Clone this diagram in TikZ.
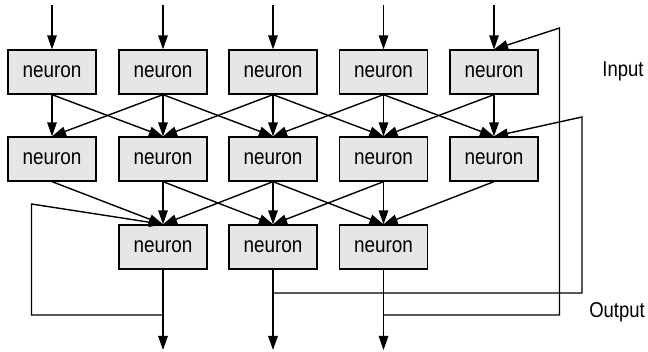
\documentclass[tikz,border=0pt]{standalone}
\usepackage{fontspec}
\setmainfont{Liberation Sans}[FakeStretch=0.86]
\usetikzlibrary{arrows.meta}
\definecolor{boxfill}{HTML}{E6E6E6}
\begin{document}
\begin{tikzpicture}[x=1pt,y=-1pt,
  neuronbox/.style={draw, fill=boxfill, line width=1.3pt, minimum width=88pt, minimum height=44pt, inner sep=0pt, font=\fontsize{22}{26}\selectfont},
  conn/.style={line width=1.4pt, line join=miter, -{Triangle[length=14pt,width=9.5pt]}},
  lbl/.style={font=\fontsize{21.5}{26}\selectfont, inner sep=0pt}]
\useasboundingbox (0,0) rectangle (648,352);
\foreach \k/\x in {1/52,2/163,3/273,4/383.5,5/494}{
  \node[neuronbox] (a\k) at (\x,72) {neuron};
  \node[neuronbox] (b\k) at (\x,159) {neuron};
  \coordinate (i\k) at (\x,5);
}
\foreach \k/\x in {1/163,2/273,3/383.5}{
  \node[neuronbox] (c\k) at (\x,247) {neuron};
  \coordinate (o\k) at (\x,350);
}
\foreach \k in {1,...,5}{ \draw[conn] (i\k) -- (a\k.north); }
\foreach \i/\j in {1/1,1/2,2/1,2/2,2/3,3/2,3/3,3/4,4/3,4/4,4/5,5/4,5/5}{
  \draw[conn] (a\i.south) -- (b\j.north);
}
\foreach \i/\j in {1/1,2/1,2/2,3/1,3/2,3/3,4/2,4/3,5/3}{
  \draw[conn] (b\i.south) -- (c\j.north);
}
\foreach \k in {1,2,3}{ \draw[conn] (c\k.south) -- (o\k); }
% feedback wires
\coordinate (j1) at (163,315);
\coordinate (j2) at (273,293);
\coordinate (j3) at (383.5,315);
\coordinate (l1) at (31.5,315);
\coordinate (l2) at (31.5,204);
\coordinate (m1) at (582,293);
\coordinate (m2) at (582,117);
\coordinate (r1) at (559.5,315);
\coordinate (r2) at (559.5,28);
\draw[conn] (j1) -- (l1) -- (l2) -- (c1.north);
\draw[conn] (j2) -- (m1) -- (m2) -- (b5.north);
\draw[conn] (j3) -- (r1) -- (r2) -- (a5.north);
\node[lbl] (inp) at (623,71) {Input};
\node[lbl] (outp) at (617,312) {Output};
\end{tikzpicture}
\end{document}
